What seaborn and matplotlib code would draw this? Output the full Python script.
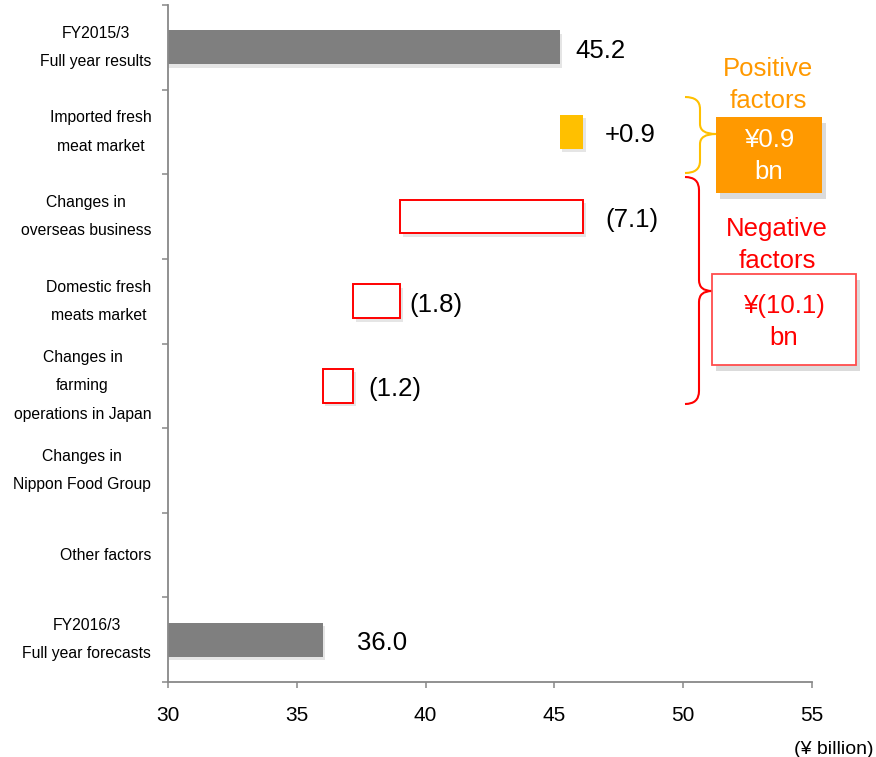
import numpy as np
import pandas as pd
import matplotlib
matplotlib.use("Agg")
import matplotlib.pyplot as plt
import seaborn as sns
from matplotlib.path import Path
from matplotlib.patches import PathPatch, Rectangle
import matplotlib.patheffects as pe

# ---------------- data ----------------
categories = [
    "FY2015/3\nFull year results",
    "Imported fresh\nmeat market",
    "Changes in\noverseas business",
    "Domestic fresh\nmeats market",
    "Changes in\nfarming\noperations in Japan",
    "Changes in\nNippon Food Group",
    "Other factors",
    "FY2016/3\nFull year forecasts",
]
start_total = 45.2
changes = [0.9, -7.1, -1.8, -1.2, 0.0, 0.0]
end_total = 36.0
x_ticks = [30, 35, 40, 45, 50, 55]
unit_label = "(¥ billion)"

# ---------------- styles ----------------
GRAY = "#7F7F7F"
YELLOW = "#FFC000"
ORANGE = "#FF9900"
RED = "#FF0000"
AXIS = "#888888"
bar_face = [GRAY, YELLOW, "white", "white", "white", "white", "white", GRAY]
bar_edge = [GRAY, YELLOW, RED, RED, RED, RED, RED, GRAY]
bar_lw = [0, 0, 1.4, 1.4, 1.4, 1.4, 1.4, 0]
label_dx_pt = [11.5, 16, 16.5, 7, 11, 0, 0, 24.5]
BIG = 18.5

# ---------------- derived waterfall geometry ----------------
lefts, widths, labels = [0.0], [start_total], [f"{start_total:.1f}"]
running = start_total
for c in changes:
    new = running + c
    lefts.append(min(running, new))
    widths.append(abs(c))
    labels.append(f"+{c:.1f}" if c > 0 else (f"({abs(c):.1f})" if c < 0 else ""))
    running = new
lefts.append(0.0)
widths.append(end_total)
labels.append(f"{end_total:.1f}")
ends = [l + w for l, w in zip(lefts, widths)]
pos_sum = sum(c for c in changes if c > 0)
neg_sum = -sum(c for c in changes if c < 0)

df = pd.DataFrame({"category": categories, "width": widths})

sns.set_style("white")
plt.rcParams["font.family"] = ["Liberation Sans", "DejaVu Sans"]

W, H = 876, 757
fig = plt.figure(figsize=(W / 100, H / 100), dpi=100)
ax = fig.add_axes([168 / W, 1 - 682 / H, (812 - 168) / W, (682 - 5) / H])

sns.barplot(data=df, y="category", x="width", order=categories, orient="h",
            errorbar=None, width=0.4, color=GRAY, saturation=1,
            left=np.array(lefts), ax=ax)

shadow = [pe.SimplePatchShadow(offset=(2, -2.5), shadow_rgbFace="#999999", alpha=0.25), pe.Normal()]
for i, p in enumerate(ax.patches):
    if widths[i] == 0:
        p.set_visible(False)
        continue
    p.set_facecolor(bar_face[i])
    p.set_edgecolor(bar_edge[i])
    p.set_linewidth(bar_lw[i])
    p.set_path_effects(shadow)

for i, txt in enumerate(labels):
    if not txt:
        continue
    ax.annotate(txt, (ends[i], i), xytext=(label_dx_pt[i], -2.5), textcoords="offset points",
                ha="left", va="center", fontsize=BIG, color="black")

ax.set_xlim(x_ticks[0], x_ticks[-1])
ax.set_ylim(len(categories) - 0.5, -0.5)
ax.set_xticks(x_ticks)
ax.set_xticklabels([str(t) for t in x_ticks], fontsize=15)
ax.set_yticks(range(len(categories)))
ax.set_yticklabels(categories, fontsize=11.3)
ax.set_yticks(np.arange(-0.5, len(categories), 1), minor=True)
for lbl in ax.get_yticklabels():
    lbl.set_multialignment("center")
    lbl.set_linespacing(2.1)
    lbl.set_verticalalignment("center")
ax.set_xlabel("")
ax.set_ylabel("")
ax.tick_params(axis="y", which="major", left=True, length=0, pad=12, labelcolor="black")
ax.tick_params(axis="y", which="minor", left=True, length=4.5, width=1.1, color=AXIS, direction="out")
ax.tick_params(axis="x", which="major", bottom=True, length=4.5, width=1.1, color=AXIS,
               direction="out", pad=13, labelcolor="black")
for s in ["top", "right"]:
    ax.spines[s].set_visible(False)
for s in ["left", "bottom"]:
    ax.spines[s].set_color(AXIS)
    ax.spines[s].set_linewidth(1.3)
ax.grid(False)


# ---------------- right-hand annotations (figure pixel coords) ----------------
def fx(px):
    return px / W


def fy(py):
    return 1 - py / H


def brace(x0, xm, x1, y0, ym, y1, r, rt, color):
    verts = [(x0, y0), (xm, y0), (xm, y0 + r), (xm, ym - rt), (xm, ym), (x1, ym),
             (xm, ym), (xm, ym + rt), (xm, y1 - r), (xm, y1), (x0, y1)]
    codes = [Path.MOVETO, Path.CURVE3, Path.CURVE3, Path.LINETO, Path.CURVE3, Path.CURVE3,
             Path.CURVE3, Path.CURVE3, Path.LINETO, Path.CURVE3, Path.CURVE3]
    verts = [(fx(a), fy(b)) for a, b in verts]
    fig.add_artist(PathPatch(Path(verts, codes), facecolor="none", edgecolor=color,
                             linewidth=1.5, transform=fig.transFigure))


brace(685, 700, 716, 97, 134, 173, 12, 10, YELLOW)
brace(685, 699, 712, 177, 291, 404, 13, 11, RED)

box_shadow = [pe.SimplePatchShadow(offset=(3, -4), shadow_rgbFace="#888888", alpha=0.3), pe.Normal()]
fig.add_artist(Rectangle((fx(716), fy(193)), fx(822) - fx(716), fy(117) - fy(193),
                         facecolor=ORANGE, edgecolor="none", transform=fig.transFigure,
                         path_effects=box_shadow))
fig.add_artist(Rectangle((fx(712), fy(365)), fx(856) - fx(712), fy(274) - fy(365),
                         facecolor="white", edgecolor="#FF4D4D", linewidth=1.3,
                         transform=fig.transFigure, path_effects=box_shadow))

fig.text(fx(768), fy(85), "Positive\nfactors", color=ORANGE, fontsize=BIG,
         ha="center", va="center", linespacing=1.45)
fig.text(fx(769), fy(156), f"¥{pos_sum:.1f}\nbn", color="white", fontsize=BIG,
         ha="center", va="center", linespacing=1.45)
fig.text(fx(777), fy(245), "Negative\nfactors", color=RED, fontsize=BIG,
         ha="center", va="center", linespacing=1.45)
fig.text(fx(784), fy(322), f"¥({neg_sum:.1f})\nbn", color=RED, fontsize=BIG,
         ha="center", va="center", linespacing=1.45)
fig.text(fx(794), fy(749), unit_label, color="black", fontsize=14, ha="left", va="center")

fig.savefig("out.png", dpi=100)
